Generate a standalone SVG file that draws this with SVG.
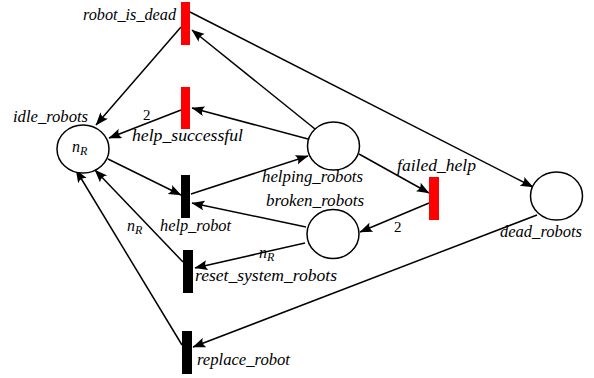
<svg xmlns="http://www.w3.org/2000/svg" width="594" height="378" viewBox="0 0 594 378">
  <style>
    .place { fill: #ffffff; stroke: #000000; stroke-width: 1.5; }
    .trans-red { fill: #ff0000; }
    .trans-black { fill: #000000; }
    .arc { stroke: #000000; stroke-width: 1.5; fill: none; marker-end: url(#arrow); }
    .lbl { font-family: 'Liberation Serif', 'Times New Roman', serif; font-style: italic; font-size: 16px; fill: #000000; }
    .num { font-family: 'Liberation Serif', 'Times New Roman', serif; font-size: 15px; fill: #000000; }
    .sub { font-size: 12px; }
  </style>
  <defs>
    <marker id="arrow" markerUnits="userSpaceOnUse" markerWidth="14" markerHeight="11" refX="12.5" refY="5" orient="auto">
      <path d="M13,5 L0,0 Q4,5 0,10 Z" fill="#000000"/>
    </marker>
  </defs>
  <rect width="594" height="378" fill="#ffffff"/>

  <!-- connectors -->
  <g id="arcs">
    <line class="arc" x1="181" y1="27" x2="96" y2="125"/>
    <line class="arc" x1="315" y1="129" x2="192" y2="30"/>
    <line class="arc" x1="190" y1="12" x2="533" y2="187"/>
    <line class="arc" x1="308" y1="139" x2="192" y2="108"/>
    <line class="arc" x1="181" y1="110" x2="109" y2="138"/>
    <line class="arc" x1="108" y1="159" x2="181" y2="195"/>
    <line class="arc" x1="191" y1="194" x2="308" y2="156"/>
    <line class="arc" x1="359" y1="154" x2="429" y2="193"/>
    <line class="arc" x1="429" y1="203" x2="360" y2="232"/>
    <line class="arc" x1="306" y1="227" x2="192" y2="203"/>
    <line class="arc" x1="305" y1="243" x2="195" y2="268"/>
    <line class="arc" x1="183" y1="262" x2="95" y2="170"/>
    <line class="arc" x1="182" y1="345" x2="76" y2="170"/>
    <line class="arc" x1="537" y1="215" x2="193" y2="347"/>
    <text class="num" x="143" y="120">2</text>
    <text class="num" x="394" y="232">2</text>
    <text class="lbl" x="127" y="231">n<tspan class="sub" dy="3">R</tspan></text>
    <text class="lbl" x="259" y="258">n<tspan class="sub" dy="3">R</tspan></text>
  </g>

  <!-- places -->
  <g id="idle_robots">
    <ellipse class="place" cx="83" cy="149" rx="26" ry="24"/>
    <text class="lbl" x="13" y="122" textLength="75" lengthAdjust="spacingAndGlyphs">idle_robots</text>
    <text class="lbl" x="72" y="152">n<tspan class="sub" dy="3">R</tspan></text>
  </g>
  <g id="helping_robots">
    <ellipse class="place" cx="333.5" cy="146" rx="26" ry="24"/>
    <text class="lbl" x="262" y="182" textLength="101" lengthAdjust="spacingAndGlyphs">helping_robots</text>
  </g>
  <g id="broken_robots">
    <ellipse class="place" cx="333" cy="234" rx="26" ry="24.5"/>
    <text class="lbl" x="266" y="206" textLength="98" lengthAdjust="spacingAndGlyphs">broken_robots</text>
  </g>
  <g id="dead_robots">
    <ellipse class="place" cx="556.5" cy="196" rx="26" ry="24"/>
    <text class="lbl" x="500" y="237" textLength="82" lengthAdjust="spacingAndGlyphs">dead_robots</text>
  </g>

  <!-- transitions -->
  <g id="robot_is_dead">
    <rect class="trans-red" x="181" y="2" width="9" height="43"/>
    <text class="lbl" x="83" y="20" textLength="93" lengthAdjust="spacingAndGlyphs">robot_is_dead</text>
  </g>
  <g id="help_successful">
    <rect class="trans-red" x="181" y="87" width="9" height="42"/>
    <text class="lbl" x="132" y="141" textLength="111" lengthAdjust="spacingAndGlyphs">help_successful</text>
  </g>
  <g id="help_robot">
    <rect class="trans-black" x="181" y="175" width="9" height="43"/>
    <text class="lbl" x="160" y="231" textLength="71" lengthAdjust="spacingAndGlyphs">help_robot</text>
  </g>
  <g id="failed_help">
    <rect class="trans-red" x="429" y="177" width="10" height="43"/>
    <text class="lbl" x="397" y="171" textLength="79" lengthAdjust="spacingAndGlyphs">failed_help</text>
  </g>
  <g id="reset_system_robots">
    <rect class="trans-black" x="183" y="250" width="10" height="43"/>
    <text class="lbl" x="195" y="281" textLength="142" lengthAdjust="spacingAndGlyphs">reset_system_robots</text>
  </g>
  <g id="replace_robot">
    <rect class="trans-black" x="182" y="331" width="10" height="43"/>
    <text class="lbl" x="197" y="365" textLength="93" lengthAdjust="spacingAndGlyphs">replace_robot</text>
  </g>
</svg>
